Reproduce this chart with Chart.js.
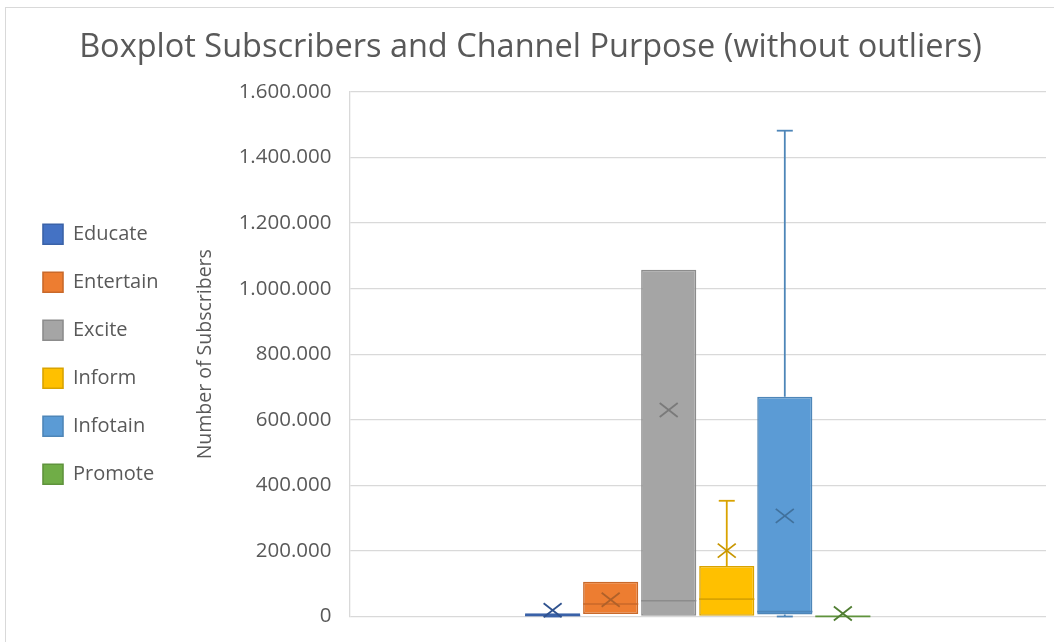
<!DOCTYPE html>
<html>
<head>
<meta charset="utf-8">
<script src="https://cdn.jsdelivr.net/npm/chart.js@4"></script>
<style>
  html, body { margin: 0; padding: 0; background: #fff; overflow: hidden; }
  #frame { position: absolute; left: 5px; top: 7px; width: 1100px; height: 700px;
           border-left: 1px solid #d9d9d9; border-top: 1px solid #d9d9d9; }
  #wrap { position: absolute; left: 0; top: 0; width: 1054px; height: 642px; }
</style>
</head>
<body>
<div id="frame"></div>
<div id="wrap"><canvas id="boxchart"></canvas></div>
<script>
// purposes and box plot statistics (subscribers)
var purposes = ["Educate", "Entertain", "Excite", "Inform", "Infotain", "Promote"];
var mins     = [0, 7600, 0, 0, 0, 0];
var q1s      = [1000, 7600, 0, 0, 6000, 0];
var medians  = [3000, 38000, 48000, 53000, 15000, 500];
var q3s      = [10000, 106000, 1058000, 154000, 670000, 2000];
var maxs     = [10000, 106000, 1058000, 353000, 1482000, 2000];
var means    = [19000, 51000, 630000, 201000, 307000, 9000];
var yTicks   = [0, 200000, 400000, 600000, 800000, 1000000, 1200000, 1400000, 1600000];

var fills = ["#4472C4", "#ED7D31", "#A5A5A5", "#FFC000", "#5B9BD5", "#70AD47"];
var edges = ["#3A62A8", "#C9692A", "#8C8C8C", "#D9A300", "#4E86B8", "#5F933C"];
var marks = ["#2F528F", "#B0612A", "#7A7A7A", "#C89600", "#41719C", "#507E32"];

function dots(v) {
  return String(v).replace(/\B(?=(\d{3})+(?!\d))/g, ".");
}

var datasets = purposes.map(function (p, i) {
  return {
    label: p,
    data: [[q1s[i], q3s[i]]],
    backgroundColor: fills[i],
    borderColor: edges[i],
    borderWidth: 1.6,
    borderSkipped: false,
    categoryPercentage: 0.5,
    barPercentage: 0.95
  };
});

// whiskers, median line and mean cross for each box
var boxDetails = {
  id: "boxDetails",
  afterDatasetsDraw: function (chart) {
    var ctx = chart.ctx;
    var y = chart.scales.y;
    function seg(x1, y1, x2, y2) {
      ctx.beginPath(); ctx.moveTo(x1, y1); ctx.lineTo(x2, y2); ctx.stroke();
    }
    chart.data.datasets.forEach(function (ds, i) {
      var bar = chart.getDatasetMeta(i).data[0];
      var x = bar.x, half = bar.width / 2;
      ctx.save();
      ctx.strokeStyle = edges[i];
      ctx.lineWidth = 1.8;
      if (maxs[i] > q3s[i]) {
        seg(x, y.getPixelForValue(q3s[i]), x, y.getPixelForValue(maxs[i]));
        seg(x - 8, y.getPixelForValue(maxs[i]), x + 8, y.getPixelForValue(maxs[i]));
      }
      if (mins[i] < q1s[i]) {
        seg(x, y.getPixelForValue(q1s[i]), x, y.getPixelForValue(mins[i]));
        seg(x - 8, y.getPixelForValue(mins[i]), x + 8, y.getPixelForValue(mins[i]));
      }
      ctx.lineWidth = 1.6;
      var my = y.getPixelForValue(medians[i]);
      seg(x - half, my, x + half, my);
      ctx.strokeStyle = marks[i];
      ctx.lineWidth = 1.8;
      var ey = y.getPixelForValue(means[i]);
      seg(x - 9, ey - 7, x + 9, ey + 7);
      seg(x - 9, ey + 7, x + 9, ey - 7);
      ctx.restore();
    });
  }
};

new Chart("boxchart", {
  type: "bar",
  data: { labels: [""], datasets: datasets },
  plugins: [boxDetails],
  options: {
    responsive: true,
    maintainAspectRatio: false,
    animation: false,
    layout: { padding: { left: 15, right: 8, top: 0, bottom: 25.5 } },
    plugins: {
      title: {
        display: true,
        text: "Boxplot Subscribers and Channel Purpose (without outliers)",
        color: "#595959",
        font: { family: "'Open Sans'", size: 32.5, weight: "normal" },
        padding: { top: 28, bottom: 25 }
      },
      legend: {
        position: "left",
        fullSize: false,
        labels: {
          color: "#595959",
          font: { family: "'Open Sans'", size: 20 },
          boxWidth: 20,
          boxHeight: 20,
          padding: 28
        }
      },
      tooltip: { enabled: false }
    },
    scales: {
      x: {
        ticks: { display: false },
        grid: { display: false },
        border: { display: false },
        afterFit: function (scale) { scale.height = 0; }
      },
      y: {
        min: 0,
        max: 1600000,
        afterBuildTicks: function (scale) {
          scale.ticks = yTicks.map(function (v) { return { value: v }; });
        },
        afterFit: function (scale) {
          scale.width = 181;
          scale.paddingBottom = 0;
        },
        ticks: {
          color: "#595959",
          font: { family: "'Open Sans'", size: 20.5 },
          padding: 18,
          callback: function (v) { return dots(v); }
        },
        grid: { color: "#d9d9d9", lineWidth: 1.3, drawTicks: false },
        border: { color: "#d9d9d9", width: 1.3 },
        title: {
          display: true,
          text: "Number of Subscribers",
          color: "#595959",
          font: { family: "'Open Sans'", size: 19.5 },
          padding: { top: 25, bottom: 0 }
        }
      }
    }
  }
});
</script>
</body>
</html>
